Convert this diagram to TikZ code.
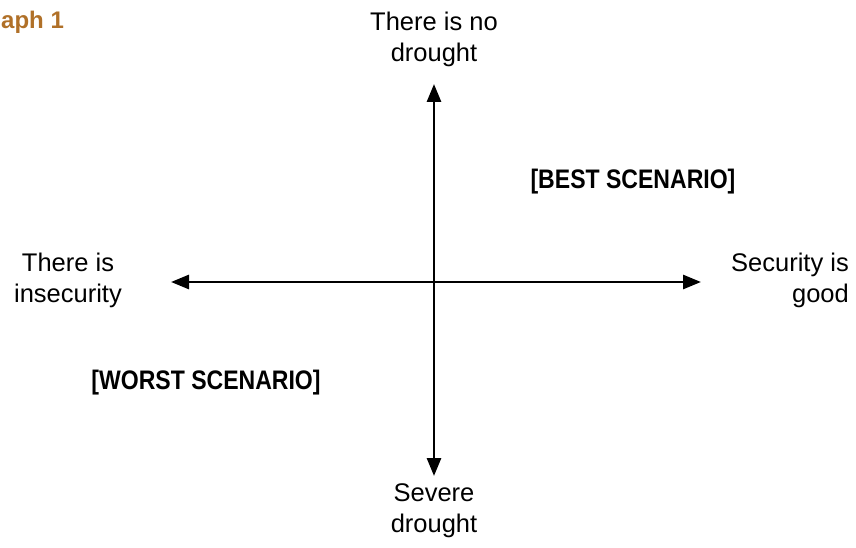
\documentclass[tikz,border=0pt]{standalone}
\usepackage{fontspec}
\setmainfont{Liberation Sans}
\newfontfamily\condfont[FakeStretch=0.86]{Liberation Sans}
\usetikzlibrary{arrows.meta}
\definecolor{titlebrown}{RGB}{176, 112, 40}

\begin{document}
\begin{tikzpicture}[x=1pt, y=-1pt,
  axis/.style={line width=2.8pt, {Triangle[length=18pt,width=14pt]}-{Triangle[length=18pt,width=14pt]}},
  lbl/.style={font=\fontsize{25.5}{31}\selectfont, align=center, inner sep=0pt},
  scen/.style={font=\condfont\bfseries\fontsize{26.8}{30}\selectfont, inner sep=0pt}]
  \useasboundingbox (0,0) rectangle (856,548);
  \node[font=\bfseries\fontsize{24}{28}\selectfont, text=titlebrown, anchor=west, inner sep=0pt] (title) at (1,22) {aph 1};
  % axes ends
  \coordinate (top) at (434,84);
  \coordinate (bot) at (434,476);
  \coordinate (lft) at (171,282);
  \coordinate (rgt) at (701,282);
  \draw[axis] (bot) -- (top);
  \draw[axis] (lft) -- (rgt);
  % axis labels
  \node[lbl, anchor=south] (nodrought) at (434,67) {There is no\\ drought};
  \node[lbl, anchor=north] (severe) at (434,483) {Severe\\ drought};
  \node[lbl] (insecure) at (68,280) {There is\\ insecurity};
  \node[lbl, align=right, anchor=east] (secure) at (849,280) {Security is\\ good};
  % quadrants
  \node[scen] (best) at (633,182) {[BEST SCENARIO]};
  \node[scen] (worst) at (206,383) {[WORST SCENARIO]};
\end{tikzpicture}
\end{document}
